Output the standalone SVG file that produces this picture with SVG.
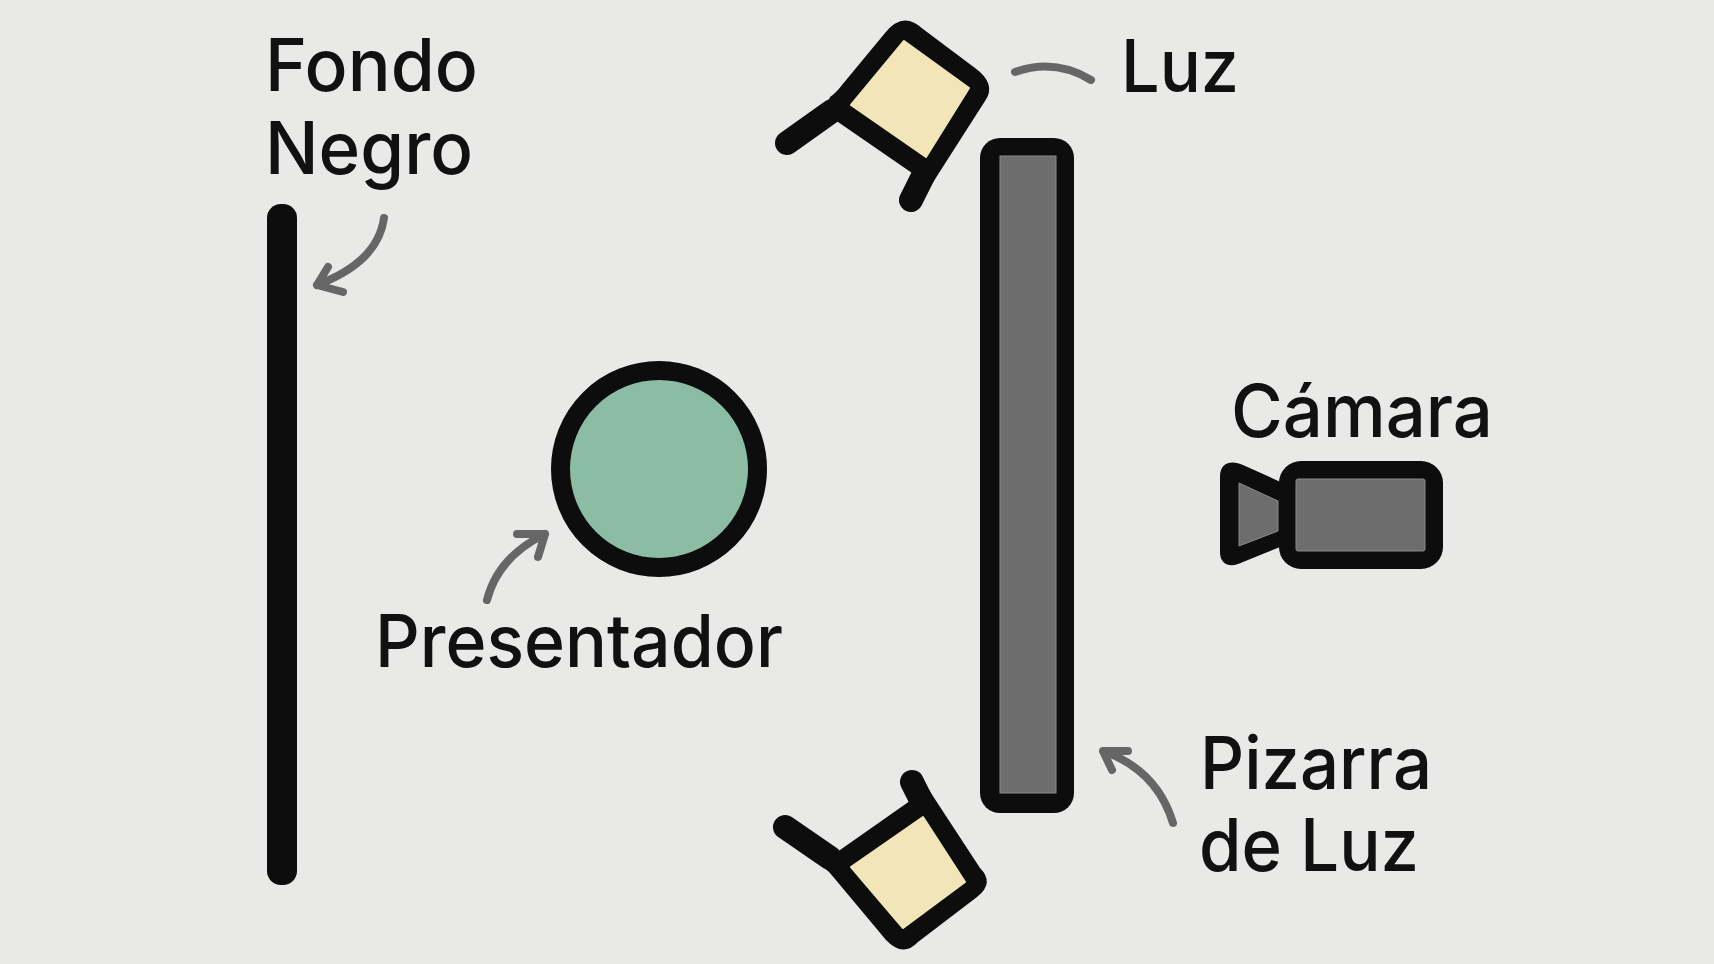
<svg xmlns="http://www.w3.org/2000/svg" width="1714" height="964" viewBox="0 0 1714 964">
<style>
.t{font-family:Inter,"Liberation Sans",sans-serif;font-size:73px;font-weight:500;fill:#111}
.k{fill:#0d0d0d}
.h{fill:none;stroke:#0d0d0d;stroke-width:24;stroke-linecap:round}
.a{fill:none;stroke:#666;stroke-width:8;stroke-linecap:round;stroke-linejoin:round}
.c{fill:#f2e5b8;stroke:#f2e5b8;stroke-width:2;stroke-linejoin:round}
.g{fill:#6d6d6d;stroke:#8a8a8a;stroke-width:1}
</style>
<rect width="1714" height="964" fill="#e9eae7"/>
<g id="fondo"><rect class="k" x="267" y="204" width="30" height="681" rx="14"/>
<text class="t" x="265" y="91" textLength="213" lengthAdjust="spacingAndGlyphs">Fondo</text><text class="t" x="265" y="174" textLength="208" lengthAdjust="spacingAndGlyphs">Negro</text></g>
<g id="presentador"><circle cx="659" cy="469" r="98.5" fill="#8cbca4" stroke="#0d0d0d" stroke-width="19"/>
<text class="t" x="375" y="667" textLength="408" lengthAdjust="spacingAndGlyphs">Presentador</text></g>
<g id="luz-superior">
<path class="k" d="M830,97Q836,93 842,85L885,33Q903,10 923,29L975,68Q997,84 985,101L930,187L912,173L838,122L825,110Z"/>
<path class="h" d="M787,143L832,111"/><path class="h" d="M911,200L924,174"/>
<path class="c" d="M904,41L969,88L926,157L851,105Z"/>
<text class="t" x="1121" y="92" textLength="118" lengthAdjust="spacingAndGlyphs">Luz</text></g>
<g id="luz-inferior">
<path class="k" d="M822,866Q829,871 835,879L886,940Q903,958 918,942L977,897Q995,883 980,868L927,787L907,803L840,850Z"/>
<path class="h" d="M785,827L830,858"/><path class="h" d="M912,782L922,802"/>
<path class="c" d="M923,817L965,882L903,928L851,867Z"/></g>
<g id="pizarra"><rect class="k" x="980" y="138" width="94" height="675" rx="20"/>
<rect class="g" x="1000" y="156" width="56" height="637"/>
<text class="t" x="1200" y="789" textLength="232" lengthAdjust="spacingAndGlyphs">Pizarra</text><text class="t" x="1199" y="871" textLength="220" lengthAdjust="spacingAndGlyphs">de Luz</text></g>
<g id="camara">
<path class="k" d="M1220,477C1220,462 1232,460 1243,465L1285,484V545L1243,562C1232,568 1220,566 1220,552Z"/>
<rect class="k" x="1279" y="461" width="164" height="108" rx="22"/>
<path class="g" d="M1239,483L1278,501V531L1239,546Z"/>
<rect class="g" x="1296" y="479" width="129" height="72" rx="2"/>
<text class="t" x="1231" y="437" textLength="262" lengthAdjust="spacingAndGlyphs">Cámara</text></g>
<g id="conectores">
<path class="a" d="M384,218Q378,262 317,285M328,267L317,285L343,292"/>
<path class="a" d="M1015,72Q1055,58 1091,80"/>
<path class="a" d="M1173,823Q1157,770 1103,751M1128,751H1103L1112,770"/>
<path class="a" d="M487,600Q498,557 545,534M517,534H545L538,557"/>
</g>
</svg>
